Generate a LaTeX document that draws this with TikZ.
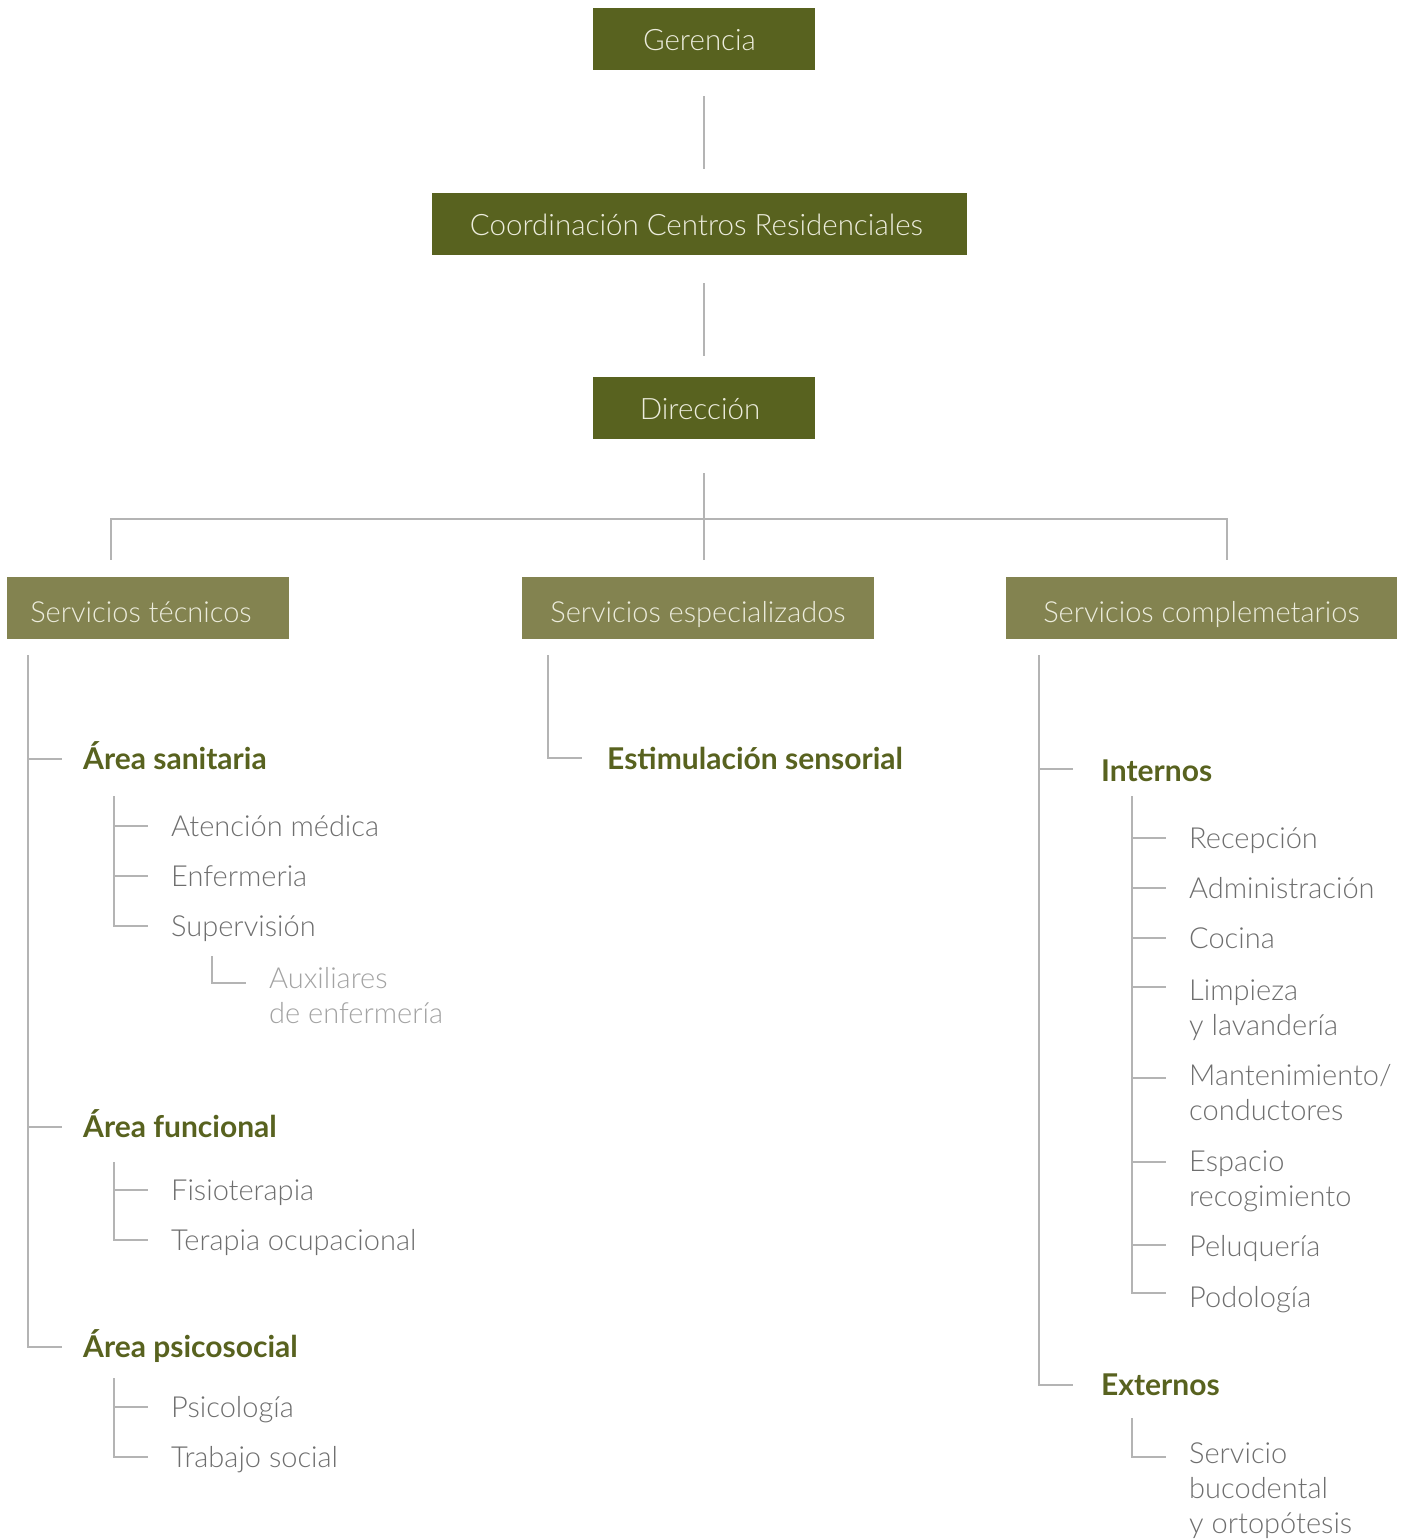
\documentclass[tikz,border=0pt]{standalone}
\usepackage{fontspec}
\newfontfamily\lightf{Lato Light}
\newfontfamily\boldf{Lato Bold}
\definecolor{cDark}{HTML}{58621F}
\definecolor{cLight}{HTML}{838350}
\definecolor{cBoxText}{HTML}{ECECDC}
\definecolor{cItem}{HTML}{6E6E6E}
\definecolor{cSub}{HTML}{A3A3A3}
\definecolor{cLine}{HTML}{B4B4B4}
\tikzset{
  dbox/.style={fill=cDark, text=cBoxText, minimum height=62, inner sep=0, text height=23, text depth=0, font=\lightf\fontsize{29.5}{34}\selectfont},
  lbox/.style={dbox, fill=cLight, text height=28, font=\lightf\fontsize{29}{34}\selectfont},
  conn/.style={draw=cLine, line width=1.5},
  head/.style={anchor=base west, inner sep=0, text=cDark, font=\boldf\fontsize{30}{35}\selectfont},
  item/.style={anchor=base west, inner sep=0, text=cItem, align=left, font=\lightf\fontsize{29}{35}\selectfont},
  subitem/.style={item, text=cSub},
}
\begin{document}
\begin{tikzpicture}[x=1pt,y=-1pt]
\useasboundingbox (0,0) rectangle (1407,1539);
% top boxes
\node[dbox, minimum width=222] (ger) at (704,39) {Gerencia\hspace*{9pt}};
\node[dbox, minimum width=535] (coo) at (699.5,224) {Coordinación Centros Residenciales\hspace*{6pt}};
\node[dbox, minimum width=222] (dir) at (704,408) {Dirección\hspace*{8pt}};
\node[lbox, minimum width=282] (st) at (148,608) {Servicios técnicos\hspace*{14pt}};
\node[lbox, minimum width=352] (se) at (698,608) {Servicios especializados};
\node[lbox, minimum width=391] (sc) at (1201.5,608) {Servicios complemetarios};
\coordinate (gStart) at ([yshift=-26]ger.south);
\coordinate (cTop) at ([yshift=24]coo.north);
\draw[conn] (gStart) -- (gStart |- cTop);
\coordinate (cStart) at ([yshift=-28]coo.south);
\coordinate (dTop) at ([yshift=21]dir.north);
\draw[conn] (dTop |- cStart) -- (dTop);
\coordinate (dStart) at ([yshift=-34]dir.south);
\coordinate (boxTop) at ([yshift=17]se.north);
\coordinate (b1) at (111,519);
\coordinate (b3) at (1227,519);
\draw[conn] (dStart) -- (dStart |- boxTop);
\draw[conn] (b1 |- boxTop) -- (b1) -- (b3) -- (b3 |- boxTop);
% left column
\coordinate (stT) at (28,655);
\node[head] (asan) at (83,769) {Área sanitaria};
\node[head] (afun) at (83,1137) {Área funcional};
\node[head] (apsi) at (83,1357) {Área psicosocial};
\coordinate (asanT) at ([xshift=-21,yshift=10]asan.base west);
\coordinate (afunT) at ([xshift=-21,yshift=10]afun.base west);
\coordinate (apsiT) at ([xshift=-21,yshift=10]apsi.base west);
\draw[conn] (stT) |- (apsiT);
\draw[conn] (stT |- asanT) -- (asanT);
\draw[conn] (stT |- afunT) -- (afunT);
% sanitaria
\coordinate (saT) at (114,796);
\node[item] (ate) at (171,836) {Atención médica};
\node[item] (enf) at (171,886) {Enfermeria};
\node[item] (sup) at (171,936) {Supervisión};
\coordinate (ateT) at ([xshift=-23,yshift=10]ate.base west);
\coordinate (enfT) at ([xshift=-23,yshift=10]enf.base west);
\coordinate (supT) at ([xshift=-23,yshift=10]sup.base west);
\draw[conn] (saT) |- (supT);
\draw[conn] (saT |- ateT) -- (ateT);
\draw[conn] (saT |- enfT) -- (enfT);
\coordinate (auT0) at (212,956);
\node[subitem] (aux) at (269,1023) {Auxiliares\\de enfermería};
\coordinate (auxT) at ([xshift=-23,yshift=40]aux.base west);
\draw[conn] (auT0) |- (auxT);
% funcional
\coordinate (fuT) at (114,1162);
\node[item] (fis) at (171,1200) {Fisioterapia};
\node[item] (ter) at (171,1250) {Terapia ocupacional};
\coordinate (fisT) at ([xshift=-23,yshift=10]fis.base west);
\coordinate (terT) at ([xshift=-23,yshift=10]ter.base west);
\draw[conn] (fuT) |- (terT);
\draw[conn] (fuT |- fisT) -- (fisT);
% psicosocial
\coordinate (psT) at (114,1378);
\node[item] (psi) at (171,1417) {Psicología};
\node[item] (tra) at (171,1467) {Trabajo social};
\coordinate (psiT) at ([xshift=-23,yshift=10]psi.base west);
\coordinate (traT) at ([xshift=-23,yshift=10]tra.base west);
\draw[conn] (psT) |- (traT);
\draw[conn] (psT |- psiT) -- (psiT);
% middle
\coordinate (seT) at (548,655);
\node[head] (est) at (607,769) {Estimulación sensorial};
\coordinate (estT) at ([xshift=-25,yshift=11]est.base west);
\draw[conn] (seT) |- (estT);
% right
\coordinate (scT) at (1039,655);
\node[head] (int) at (1101,781) {Internos};
\node[head] (ext) at (1101,1395) {Externos};
\coordinate (intT) at ([xshift=-28,yshift=12]int.base west);
\coordinate (extT) at ([xshift=-28,yshift=10]ext.base west);
\draw[conn] (scT) |- (extT);
\draw[conn] (scT |- intT) -- (intT);
\coordinate (inT) at (1132,796);
\node[item] (rec) at (1189,848) {Recepción};
\node[item] (adm) at (1189,898) {Administración};
\node[item] (coc) at (1189,948) {Cocina};
\node[item] (lim) at (1189,1035) {Limpieza\\y lavandería};
\node[item] (man) at (1189,1120) {Mantenimiento/\\conductores};
\node[item] (esp) at (1189,1206) {Espacio\\recogimiento};
\node[item] (pel) at (1189,1256) {Peluquería};
\node[item] (pod) at (1189,1307) {Podología};
\coordinate (recT) at ([xshift=-23,yshift=10]rec.base west);
\coordinate (admT) at ([xshift=-23,yshift=10]adm.base west);
\coordinate (cocT) at ([xshift=-23,yshift=10]coc.base west);
\coordinate (limT) at ([xshift=-23,yshift=48]lim.base west);
\coordinate (manT) at ([xshift=-23,yshift=42]man.base west);
\coordinate (espT) at ([xshift=-23,yshift=44]esp.base west);
\coordinate (pelT) at ([xshift=-23,yshift=11]pel.base west);
\coordinate (podT) at ([xshift=-23,yshift=14]pod.base west);
\draw[conn] (inT) |- (podT);
\foreach \t in {recT,admT,cocT,limT,manT,espT,pelT}
  \draw[conn] (inT |- \t) -- (\t);
\coordinate (exT) at (1132,1418);
\node[item] (buc) at (1189,1533) {Servicio\\bucodental\\y ortopótesis};
\coordinate (bucT) at ([xshift=-23,yshift=76]buc.base west);
\draw[conn] (exT) |- (bucT);
\end{tikzpicture}
\end{document}
